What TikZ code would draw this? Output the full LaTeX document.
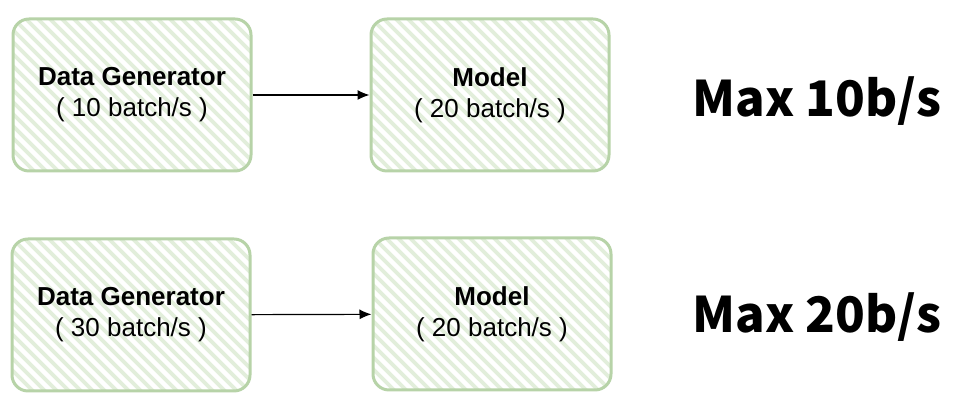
\documentclass[tikz,border=0pt]{standalone}
\usepackage{fontspec}
\setmainfont{Liberation Sans}
\newfontfamily\maxfont{Noto Sans CJK KR}
\usetikzlibrary{arrows.meta}

\definecolor{boxline}{HTML}{B7D3A8}
\definecolor{boxfill}{HTML}{E2EEDB}

\tikzset{
  box/.style = {draw = boxline, line width = 1.5pt, rounded corners = 8pt,
    fill = boxfill, minimum width = 119pt, minimum height = 76pt,
    align = center, font = \fontsize{13}{15.5}\selectfont,
    path picture = {
      \foreach \i in {-240, -228, ..., 240}
        \draw[white, line width = 2.2pt]
          ([shift = {(\i - 100, -100)}]path picture bounding box.center)
          -- ++(200, 200);
    }},
  maxlabel/.style = {font = \maxfont\bfseries\fontsize{24.5}{28}\selectfont},
  link/.style = {-{Latex[length = 6pt, width = 5pt]}, line width = 0.6pt}
}

\begin{document}
\begin{tikzpicture}[x = 0.5pt, y = -0.5pt]
  \useasboundingbox (0, 0) rectangle (955, 415);

  % first row
  \node[box] (gen1) at (132, 95) {\textbf{Data Generator}\\( 10 batch/s )};
  \node[box] (model1) at (490, 95) {\textbf{Model}\\( 20 batch/s )};
  \node[maxlabel] (max1) at (817, 101) {Max 10b/s};
  \draw[link] (gen1) -- (model1);

  % second row
  \node[box] (gen2) at (131, 315) {\textbf{Data Generator}\\( 30 batch/s )};
  \node[box] (model2) at (492, 314) {\textbf{Model}\\( 20 batch/s )};
  \node[maxlabel] (max2) at (817, 317) {Max 20b/s};
  \draw[link] (gen2) -- (model2);
\end{tikzpicture}
\end{document}
